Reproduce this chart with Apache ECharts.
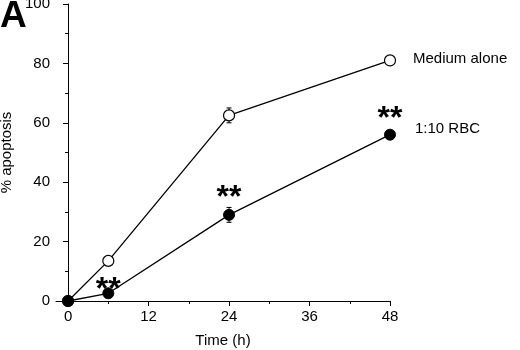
<!DOCTYPE html>
<html>
<head>
<meta charset="utf-8">
<script src="https://cdn.jsdelivr.net/npm/echarts@6/dist/echarts.min.js"></script>
<style>
  html, body { margin: 0; padding: 0; background: #fff; }
  #chart { width: 520px; height: 350px; }
</style>
</head>
<body>
<div id="chart"></div>
<script>
// data
var times = [0, 6, 24, 48];
var mediumAlone = [0, 13.5, 62.5, 81];
var mediumErr = [0, 0, 2.5, 1.5];
var rbc = [0, 2.6, 29, 56];
var rbcErr = [0, 0, 2.5, 1];
var starX = [6, 24, 48];
var starY = [6, 37, 63.5];
var xMajor = [0, 12, 24, 36, 48];
var xMinor = [6, 18, 30, 42];

var font = 'Liberation Sans, Arial, sans-serif';

function pairs(xs, ys) {
    return xs.map(function (x, i) { return [x, ys[i]]; });
}
function errData(xs, ys, es) {
    var out = [];
    xs.forEach(function (x, i) {
        if (es[i] > 0) out.push([x, ys[i] - es[i], ys[i] + es[i]]);
    });
    return out;
}
function renderErr(params, api) {
    var x = api.value(0);
    var lo = api.coord([x, api.value(1)]);
    var hi = api.coord([x, api.value(2)]);
    var w = 2.5;
    var st = { stroke: '#000', lineWidth: 1 };
    return {
        type: 'group',
        children: [
            { type: 'line', shape: { x1: lo[0], y1: lo[1], x2: hi[0], y2: hi[1] }, style: st },
            { type: 'line', shape: { x1: lo[0] - w, y1: lo[1], x2: lo[0] + w, y2: lo[1] }, style: st },
            { type: 'line', shape: { x1: hi[0] - w, y1: hi[1], x2: hi[0] + w, y2: hi[1] }, style: st }
        ]
    };
}

var chart = echarts.init(document.getElementById('chart'));
chart.setOption({
    animation: false,
    grid: { left: 56, right: 130, top: 4, bottom: 49, outerBoundsMode: 'none' },
    xAxis: [
        {
            type: 'value', min: -1.8, max: 48,
            name: 'Time (h)', nameLocation: 'middle', nameGap: 32,
            nameTextStyle: { fontFamily: font, fontSize: 15, color: '#000' },
            axisLine: { lineStyle: { color: '#000', width: 1 } },
            axisTick: { length: 5, customValues: xMajor, lineStyle: { color: '#000' } },
            axisLabel: { customValues: xMajor, fontFamily: font, fontSize: 15, color: '#000', margin: 8 },
            splitLine: { show: false }
        },
        {
            type: 'value', min: -1.8, max: 48, position: 'bottom',
            axisLine: { show: false },
            axisTick: { length: 3, customValues: xMinor, lineStyle: { color: '#000' } },
            axisLabel: { show: false },
            splitLine: { show: false }
        }
    ],
    yAxis: {
        type: 'value', min: 0, max: 100, interval: 20,
        name: '% apoptosis', nameLocation: 'middle', nameGap: 42,
        nameTextStyle: { fontFamily: font, fontSize: 15, color: '#000' },
        axisLine: { show: true, lineStyle: { color: '#000', width: 1 } },
        axisTick: { show: true, length: 5, lineStyle: { color: '#000' } },
        minorTick: { show: true, splitNumber: 2, length: 3, lineStyle: { color: '#000' } },
        axisLabel: { fontFamily: font, fontSize: 15, color: '#000', margin: 6 },
        splitLine: { show: false }
    },
    graphic: [
        { type: 'text', left: 0, top: -2, style: { text: 'A', font: 'bold 37px ' + font, fill: '#000' } },
        { type: 'text', left: 413, top: 51, style: { text: 'Medium alone', font: '15px ' + font, fill: '#000' } },
        { type: 'text', left: 415, top: 121, style: { text: '1:10 RBC', font: '15px ' + font, fill: '#000' } }
    ],
    series: [
        {
            type: 'custom', renderItem: renderErr, data: errData(times, mediumAlone, mediumErr),
            encode: { x: 0, y: [1, 2] }, z: 1
        },
        {
            type: 'custom', renderItem: renderErr, data: errData(times, rbc, rbcErr),
            encode: { x: 0, y: [1, 2] }, z: 1
        },
        {
            name: 'Medium alone', type: 'line', data: pairs(times, mediumAlone),
            symbol: 'circle', symbolSize: 11, showAllSymbol: true,
            lineStyle: { color: '#000', width: 1.3 },
            itemStyle: { color: '#fff', borderColor: '#000', borderWidth: 1.2 }, z: 3
        },
        {
            name: '1:10 RBC', type: 'line', data: pairs(times, rbc),
            symbol: 'circle', symbolSize: 11, showAllSymbol: true,
            lineStyle: { color: '#000', width: 1.3 },
            itemStyle: { color: '#000', borderColor: '#000', borderWidth: 1 }, z: 4
        },
        {
            type: 'custom', data: pairs(starX, starY), z: 5,
            renderItem: function (params, api) {
                var p = api.coord([api.value(0), api.value(1)]);
                return {
                    type: 'text',
                    style: {
                        text: '**', x: p[0], y: p[1] + 7,
                        align: 'center', verticalAlign: 'middle',
                        font: 'bold 32px ' + font, fill: '#000'
                    }
                };
            }
        }
    ]
});
</script>
</body>
</html>
